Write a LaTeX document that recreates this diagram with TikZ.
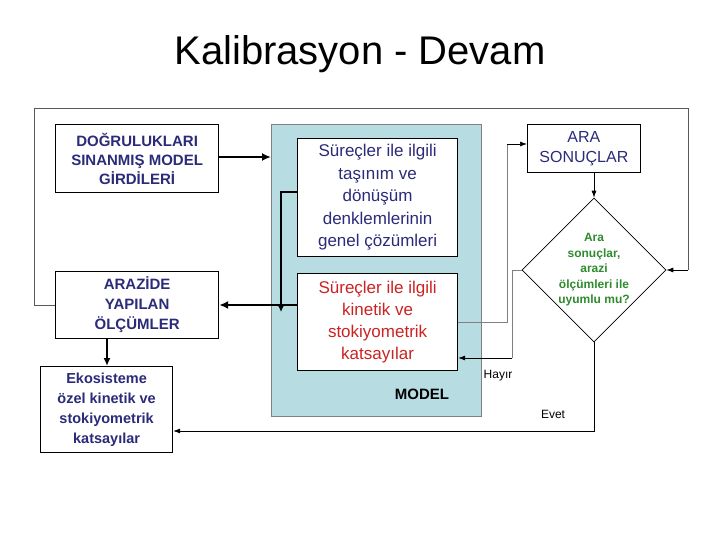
\documentclass[tikz,border=0pt]{standalone}
\usepackage{fontspec}
\setmainfont{Liberation Sans}
\usetikzlibrary{arrows.meta,shapes.geometric}
\definecolor{navy}{HTML}{2B2B7A}
\definecolor{rd}{HTML}{CC2222}
\definecolor{gr}{HTML}{2E8B2E}
\definecolor{mbg}{HTML}{B7DDE3}
\begin{document}
\begin{tikzpicture}[x=1pt,y=-1pt,
 bx/.style={draw,line width=1.2pt,fill=white,inner sep=0pt,align=center,text=navy},
 thick/.style={line width=2.4pt,-{Latex[length=9pt,width=8pt]}},
 thin/.style={line width=0.7pt,-{Latex[length=7pt,width=5pt]}}]
\useasboundingbox (0,0) rectangle (720,540);
\node (title) at (360,54) {\fontsize{40}{44}\selectfont Kalibrasyon - Devam};
\node[draw=gray,fill=mbg,minimum width=210pt,minimum height=292pt,anchor=north west,inner sep=0pt] (model) at (271,124) {};
\node[anchor=center,font=\bfseries\fontsize{15}{17}\selectfont] (mlab) at (422,394) {MODEL};
\node[bx,minimum width=163pt,minimum height=68pt,anchor=north west,font=\bfseries\fontsize{15}{19}\selectfont] (dog) at (55,124) {DOĞRULUKLARI\\SINANMIŞ MODEL\\GİRDİLERİ};
\node[bx,minimum width=163pt,minimum height=67pt,anchor=north west,font=\bfseries\fontsize{15}{20}\selectfont] (arz) at (55,271) {ARAZİDE\\YAPILAN\\ÖLÇÜMLER};
\node[bx,minimum width=132pt,minimum height=86pt,anchor=north west,font=\bfseries\fontsize{14.5}{20}\selectfont] (eko) at (40,366) {Ekosisteme\\özel kinetik ve\\stokiyometrik\\katsayılar};
\node[bx,minimum width=160pt,minimum height=118pt,anchor=north west,font=\fontsize{17}{22.5}\selectfont] (s1) at (297,138) {Süreçler ile ilgili\\taşınım ve\\dönüşüm\\denklemlerinin\\genel çözümleri};
\node[bx,text=rd,minimum width=160pt,minimum height=97pt,anchor=north west,font=\fontsize{17}{22}\selectfont] (s2) at (297,273) {Süreçler ile ilgili\\kinetik ve\\stokiyometrik\\katsayılar};
\node[bx,line width=0.8pt,minimum width=113pt,minimum height=48pt,anchor=north west,font=\fontsize{16}{20}\selectfont] (ara) at (527,124) {ARA\\SONUÇLAR};
\node[draw,line width=0.6pt,diamond,minimum width=142pt,minimum height=135pt,inner sep=0pt,align=center,text=gr,font=\bfseries\fontsize{12}{15.5}\selectfont] (dia) at (594,270) {Ara\\sonuçlar,\\arazi\\ölçümleri ile\\uyumlu mu?};
\coordinate (c1) at (281,192);
\coordinate (c2) at (281,305);
\draw[thick] (dog.east |- 0,157) -- (model.west |- 0,157);
\draw[line width=2.4pt] (s1.west |- c1) -- (c1) -- (c2);
\draw[line width=2.4pt,-{Latex[length=7pt,width=7pt]}] (281,192) -- (281,312);
\draw[thick] (s2.west |- c2) -- (arz.east |- c2);
\draw[line width=2.2pt,-{Latex[length=8pt,width=7pt]}] (107,338) -- (107,366);
\draw[thin] (594,172) -- (dia.north);
\draw[line width=0.7pt,gray] (s2.east |- 0,322) -- (507,322) -- (507,144);
\draw[thin] (507,144) -- (ara.west |- 0,144);
\draw[line width=0.7pt,gray] (dia.west) -- (512,270) -- (512,358);
\draw[thin] (512,358) -- (s2.east |- 0,358);
\draw[thin] (dia.south) -- (594,431) -- (eko.east |- 0,431);
\draw[line width=0.8pt,gray!70!black] (arz.west |- 0,305) -- (34,305) -- (34,108) -- (688,108) -- (688,270);
\draw[thin] (688,270) -- (dia.east);
\node (hay) at (498,376) {\fontsize{12}{14}\selectfont Hayır};
\node (evt) at (553,414) {\fontsize{12}{14}\selectfont Evet};
\end{tikzpicture}
\end{document}
